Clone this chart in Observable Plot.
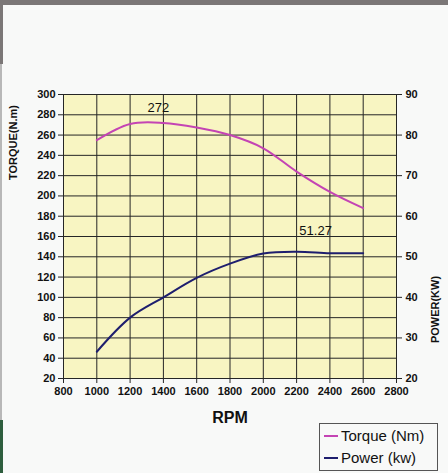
<!DOCTYPE html>
<html><head><meta charset="utf-8">
<script src="https://cdn.jsdelivr.net/npm/d3@7"></script>
<script src="https://cdn.jsdelivr.net/npm/@observablehq/plot@0.6"></script>
<style>
html,body{margin:0;padding:0;background:#f8f9f8;}
#wrap{position:relative;width:448px;height:473px;overflow:hidden;background:#f8f9f8;}
#topbar{position:absolute;left:0;top:0;width:448px;height:5px;background:#7b7777;}
#leftbar{position:absolute;left:0;top:0;width:3px;height:64px;background:#7b7777;}
#leftstrip{position:absolute;left:0;top:64px;width:2px;height:356px;background:#b8b8b8;}
#leftgreen{position:absolute;left:0;top:420px;width:3px;height:53px;background:#2e5e3e;}
#chart{position:absolute;left:0;top:0;}
#legend{position:absolute;left:319px;top:423px;width:117px;height:46px;border:1px solid #555;background:#f8f9f8;font-family:"Liberation Sans",Arial,sans-serif;font-size:15px;color:#111;}
.row{position:absolute;left:4px;height:20px;line-height:20px;white-space:nowrap;}
.sw{display:inline-block;width:14px;height:2px;vertical-align:middle;margin-right:3px;position:relative;top:-1px;}
</style></head><body>
<div id="wrap">
  <div id="topbar"></div><div id="leftbar"></div><div id="leftstrip"></div><div id="leftgreen"></div>
  <div id="chart"></div>
  <div id="legend">
    <div class="row" style="top:2px"><span class="sw" style="background:#c444b4"></span>Torque (Nm)</div>
    <div class="row" style="top:24px"><span class="sw" style="background:#1e1e6e"></span>Power (kw)</div>
  </div>
</div>
<script>
// Data
const rpm = [1000, 1200, 1400, 1600, 1800, 2000, 2200, 2400, 2600];
const torque = [255, 271, 272, 267.5, 260, 247, 224, 204, 188];
const power = [26.6, 35, 40, 44.8, 48.3, 50.8, 51.27, 50.9, 50.9];
const xTicks = [800, 1000, 1200, 1400, 1600, 1800, 2000, 2200, 2400, 2600, 2800];
const torqueTicks = [20, 40, 60, 80, 100, 120, 140, 160, 180, 200, 220, 240, 260, 280, 300];
const powerTicks = [20, 30, 40, 50, 60, 70, 80, 90];
const torqueLabel = "TORQUE(N.m)";
const powerLabel = "POWER(KW)";
const xLabel = "RPM";

// power axis (20..90) mapped onto torque axis (20..300)
const toT = p => 20 + (p - 20) * 4;
const fromT = t => String(Math.round((t - 20) / 4 + 20));

const data = rpm.map((r, i) => ({rpm: r, torque: torque[i], power: power[i], powerT: toT(power[i])}));
const tPeakIdx = torque.indexOf(d3.max(torque));
const pPeakIdx = power.indexOf(d3.max(power));
const tPeak = [{rpm: rpm[tPeakIdx], y: torque[tPeakIdx], label: String(torque[tPeakIdx])}];
const pPeak = [{rpm: rpm[pPeakIdx], y: toT(power[pPeakIdx]), label: String(power[pPeakIdx])}];

const narrow = "'Liberation Sans Narrow','Arial Narrow','Liberation Sans',Arial,sans-serif";
const sans = "'Liberation Sans',Arial,sans-serif";

const chart = Plot.plot({
  width: 448, height: 473,
  marginLeft: 63, marginRight: 52, marginTop: 94, marginBottom: 95,
  style: {background: "transparent", fontFamily: narrow, fontSize: "11px", fontWeight: "bold", color: "#111", overflow: "visible"},
  x: {domain: [800, 2800]},
  y: {domain: [20, 300]},
  marks: [
    Plot.frame({fill: "#f8f5c2", stroke: null}),
    Plot.gridX(xTicks, {stroke: "#262626", strokeOpacity: 1, strokeWidth: 1}),
    Plot.gridY(torqueTicks, {stroke: "#262626", strokeOpacity: 1, strokeWidth: 1}),
    Plot.frame({stroke: "#262626", strokeWidth: 1}),
    Plot.ruleX([800, 2800], {y1: 20, y2: 300, stroke: "#262626", insetTop: -9}),
    Plot.axisX(xTicks, {tickSize: 5, tickPadding: 4, tickFormat: d => String(d), label: null, stroke: "#262626"}),
    Plot.axisY(torqueTicks, {tickSize: 5, tickPadding: 3, tickFormat: d => String(d), label: null, stroke: "#262626"}),
    Plot.axisY(powerTicks.map(toT), {anchor: "right", tickSize: 5, tickPadding: 4, tickFormat: fromT, label: null, stroke: "#262626"}),
    Plot.line(data, {x: "rpm", y: "torque", stroke: "#c444b4", strokeWidth: 2, curve: "catmull-rom"}),
    Plot.line(data, {x: "rpm", y: "powerT", stroke: "#1e1e6e", strokeWidth: 2, curve: "catmull-rom"}),
    Plot.text(tPeak, {x: "rpm", y: "y", text: "label", dx: -5, dy: -15, fontSize: 13, fontWeight: "normal", fontFamily: sans, fill: "#111"}),
    Plot.text(pPeak, {x: "rpm", y: "y", text: "label", dx: 19, dy: -21, fontSize: 13, fontWeight: "normal", fontFamily: sans, fill: "#111"}),
    Plot.text([torqueLabel], {frameAnchor: "top-left", textAnchor: "middle", lineAnchor: "middle", dx: -50, dy: 48, rotate: -90, fontSize: 11, fontWeight: "bold", fontFamily: sans, fill: "#111"}),
    Plot.text([powerLabel], {frameAnchor: "top-right", textAnchor: "middle", lineAnchor: "middle", dx: 39, dy: 215, rotate: -90, fontSize: 11, fontWeight: "bold", fontFamily: sans, fill: "#111"}),
    Plot.text([xLabel], {frameAnchor: "bottom", lineAnchor: "middle", dy: 39, fontSize: 16, fontWeight: "bold", fontFamily: sans, fill: "#111"})
  ]
});
document.getElementById("chart").appendChild(chart);
</script>
</body></html>
